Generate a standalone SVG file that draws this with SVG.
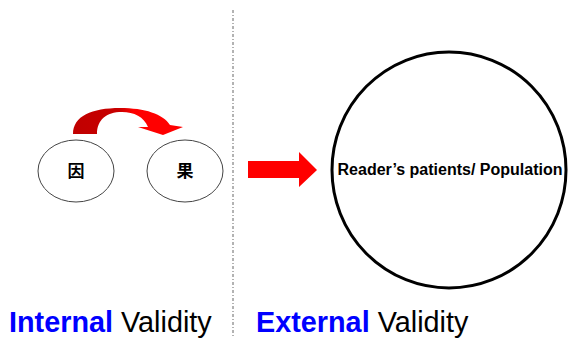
<svg xmlns="http://www.w3.org/2000/svg" width="568" height="338" viewBox="0 0 568 338">
<style>
.small ellipse{fill:#fff;stroke:#444;stroke-width:1}
.big ellipse{fill:#fff;stroke:#000;stroke-width:3}
.cjk{font-family:"Liberation Sans","Noto Sans CJK SC",sans-serif;font-size:17px;font-weight:bold;text-anchor:middle;fill:#000}
.lbl{font-family:"Liberation Sans",Arial,sans-serif;font-size:28.8px}
.blue{fill:#0000ff;font-weight:bold}
</style>
<defs>
<linearGradient id="g" gradientUnits="userSpaceOnUse" x1="73" y1="0" x2="183" y2="0">
<stop offset="0" stop-color="#c00000"/>
<stop offset="0.42" stop-color="#c80000"/>
<stop offset="0.55" stop-color="#ff0000"/>
<stop offset="1" stop-color="#ff0000"/>
</linearGradient>
</defs>
<line x1="233" y1="10" x2="233" y2="336" stroke="#666" stroke-width="1" stroke-dasharray="3,2,1,2"/>
<g id="cause" class="small"><ellipse cx="76" cy="171" rx="38" ry="31"/><text class="cjk" x="76" y="177">因</text></g>
<g id="effect" class="small"><ellipse cx="185" cy="171" rx="38" ry="31"/><text class="cjk" x="185" y="177">果</text></g>
<g id="population" class="big"><ellipse cx="449" cy="170" rx="117" ry="118"/><text x="450" y="175" font-family="Liberation Sans,Arial,sans-serif" font-size="16" font-weight="bold" text-anchor="middle">Reader’s patients/ Population</text></g>
<g id="connectors">
<path d="M73,134 C73,116 92,108 120,108 C145,108 163,114 170,125 L183,127 L163,135 L138,127 L148,127 C144,117 134,112 122,112 C106,112 97,120 97,134 Z" fill="url(#g)"/>
<polygon points="248,161 299,161 299,152 317,170 299,187 299,178 248,178" fill="#ff0000"/>
</g>
<text class="lbl" x="9" y="332"><tspan class="blue">Internal</tspan> Validity</text>
<text class="lbl" x="256" y="332"><tspan class="blue">External</tspan> Validity</text>
</svg>
